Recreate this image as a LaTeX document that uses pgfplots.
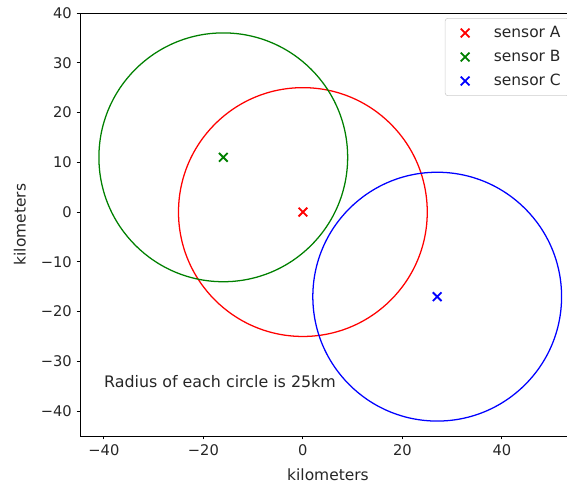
\documentclass[border=0pt]{standalone}
\usepackage{pgfplots}
\pgfplotsset{compat=1.18}
\usepackage{fontspec}
\setmainfont{DejaVu Sans}
\definecolor{mplred}{rgb}{1,0,0}
\definecolor{mplgreen}{rgb}{0,0.5,0}
\definecolor{mplblue}{rgb}{0,0,1}
\begin{document}
\begin{tikzpicture}[x=0.75pt,y=0.75pt]
\path[use as bounding box] (-80,-48) rectangle (487,436);
\begin{axis}[
  scale only axis,
  width=372pt, height=317.25pt,
  at={(0,0)}, anchor=south west,
  xmin=-44.8, xmax=54.9, ymin=-45, ymax=40,
  axis line style={line width=0.6pt},
  xtick={-40,-20,0,20,40},
  xticklabels={−40,−20,0,20,40},
  ytick={-40,-30,-20,-10,0,10,20,30,40},
  yticklabels={−40,−30,−20,−10,0,10,20,30,40},
  xtick pos=bottom, ytick pos=left,
  tick align=outside,
  major tick length=2.6pt,
  tick style={black, line width=0.6pt},
  ticklabel style={font=\fontsize{11}{13}\selectfont, text=black!85},
  xlabel={kilometers}, ylabel={kilometers},
  label style={font=\fontsize{11.6}{14}\selectfont, text=black!85},
  xlabel style={at={(axis description cs:0.5,-0.0922)}, anchor=center},
  ylabel style={at={(axis description cs:-0.121,0.5)}, anchor=center},
  legend style={at={(0.986,0.988)}, anchor=north east, draw=black!20, rounded corners=2pt,
    font=\fontsize{11.6}{14}\selectfont, text=black!85, row sep=6pt, inner xsep=6pt, inner ysep=5pt,
    nodes={inner sep=0pt, text height=9pt, text depth=3pt},
    /tikz/every odd column/.append style={column sep=10.5pt}},
  legend cell align=left,
  legend image code/.code={\path[draw=none] (0pt,0pt) -- (20pt,0pt); \draw[#1] plot coordinates {(9pt,0pt)};},
  clip=false,
]
\addplot[only marks, mark=x, mark size=4.6pt, mark options={line width=1.4pt}, color=mplred] coordinates {(0,0)};
\addlegendentry{sensor A}
\addplot[only marks, mark=x, mark size=4.6pt, mark options={line width=1.4pt}, color=mplgreen] coordinates {(-16,11)};
\addlegendentry{sensor B}
\addplot[only marks, mark=x, mark size=4.6pt, mark options={line width=1.4pt}, color=mplblue] coordinates {(27,-17)};
\addlegendentry{sensor C}
\draw[mplred, line width=0.95pt] (axis cs:0,0) circle[radius=25];
\draw[mplgreen, line width=0.95pt] (axis cs:-16,11) circle[radius=25];
\draw[mplblue, line width=0.95pt] (axis cs:27,-17) circle[radius=25];
\node[anchor=west, font=\fontsize{11.9}{14}\selectfont, text=black!85, inner sep=0pt] at (axis cs:-40,-34.1) {Radius of each circle is 25km};
\end{axis}
\end{tikzpicture}
\end{document}
